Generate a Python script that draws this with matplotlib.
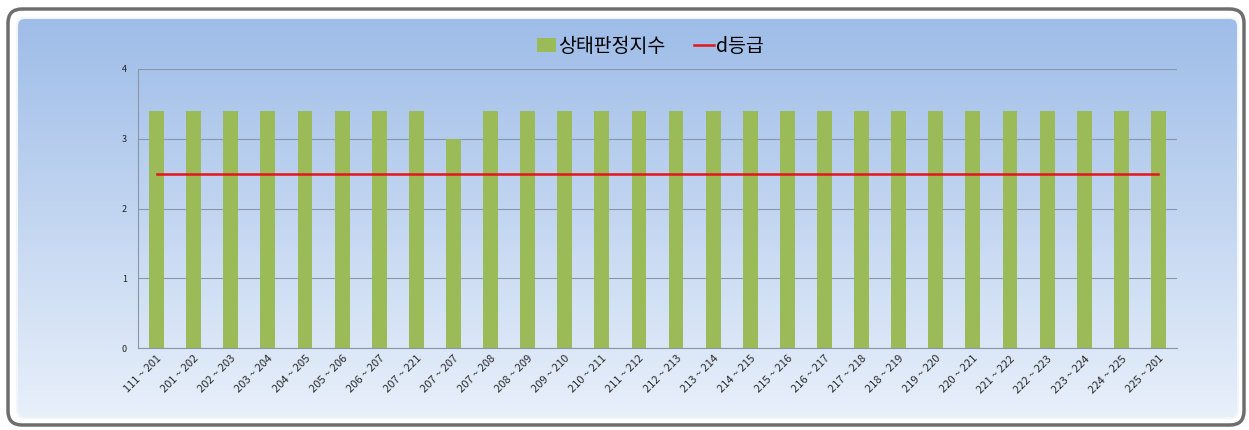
import numpy as np
import matplotlib
matplotlib.use("Agg")
import matplotlib.pyplot as plt
from matplotlib.patches import FancyBboxPatch, Patch
from matplotlib.lines import Line2D

plt.rcParams['font.family'] = ['Noto Sans CJK KR', 'DejaVu Sans']

# data
sections = ["111 ~ 201", "201 ~ 202", "202 ~ 203", "203 ~ 204", "204 ~ 205",
            "205 ~ 206", "206 ~ 207", "207 ~ 221", "207 ~ 207", "207 ~ 208",
            "208 ~ 209", "209 ~ 210", "210 ~ 211", "211 ~ 212", "212 ~ 213",
            "213 ~ 214", "214 ~ 215", "215 ~ 216", "216 ~ 217", "217 ~ 218",
            "218 ~ 219", "219 ~ 220", "220 ~ 221", "221 ~ 222", "222 ~ 223",
            "223 ~ 224", "224 ~ 225", "225 ~ 201"]
index_vals = [3.4, 3.4, 3.4, 3.4, 3.4, 3.4, 3.4, 3.4, 3.0, 3.4,
              3.4, 3.4, 3.4, 3.4, 3.4, 3.4, 3.4, 3.4, 3.4, 3.4,
              3.4, 3.4, 3.4, 3.4, 3.4, 3.4, 3.4, 3.4]
grade_d = [2.5] * len(sections)

W, H = 1249, 430
fig = plt.figure(figsize=(W / 100, H / 100), dpi=100)
fig.patch.set_facecolor("white")

# background gradient panel
bg = fig.add_axes([0, 0, 1, 1], zorder=-10)
bg.set_xlim(0, W); bg.set_ylim(H, 0); bg.axis("off")
grad = np.linspace(0, 1, 256).reshape(-1, 1)
top = np.array([0.62, 0.74, 0.91]); bot = np.array([0.91, 0.94, 0.98])
img = top + (bot - top) * grad[..., None]
im = bg.imshow(img, extent=[17, 1238, 418, 18], aspect="auto", zorder=1)
clip = FancyBboxPatch((17, 18), 1221, 400, boxstyle="round,pad=0,rounding_size=8",
                      transform=bg.transData, facecolor="none", edgecolor="none")
bg.add_patch(clip)
im.set_clip_path(clip)
bg.add_patch(FancyBboxPatch((17, 18), 1221, 400, boxstyle="round,pad=0,rounding_size=8",
                            facecolor="none", edgecolor="#f2f5fa", lw=1.5, zorder=2))
bg.add_patch(FancyBboxPatch((8, 9), 1236, 416, boxstyle="round,pad=0,rounding_size=14",
                            facecolor="none", edgecolor="#6e6e6e", lw=2.5, zorder=3))

# main chart
ax = fig.add_axes([138 / W, 1 - 348 / H, (1177 - 138) / W, (348 - 69) / H])
ax.patch.set_alpha(0)
x = np.arange(len(sections))
ax.bar(x, index_vals, width=0.4, color="#9bbb59", zorder=2)
ax.plot(x, grade_d, color="#e3161c", lw=1.8, zorder=3)
ax.set_xlim(-0.5, len(sections) - 0.5)
ax.set_ylim(0, 4)
ax.set_yticks([0, 1, 2, 3, 4])
ax.yaxis.grid(True, color="#8a96a8", lw=0.8, zorder=0)
ax.tick_params(axis="y", length=0, labelsize=6.5, pad=8, colors="#222222")
ax.tick_params(axis="x", length=0, labelsize=8, pad=4, colors="#2a2a2a")
ax.set_xticks(x)
ax.set_xticklabels(sections, rotation=45, ha="right", rotation_mode="anchor")
for s in ["top", "right"]:
    ax.spines[s].set_visible(False)
ax.spines["left"].set_color("#8a96a8")
ax.spines["bottom"].set_color("#8a96a8")

handles = [Patch(facecolor="#9bbb59", edgecolor="none"),
           Line2D([0], [0], color="#e3161c", lw=1.8)]
fig.legend(handles, ["상태판정지수", "d등급"], loc="center", bbox_to_anchor=(650 / W, 1 - 46 / H),
           ncol=2, frameon=False, fontsize=14, handlelength=1.0, handletextpad=0.1,
           columnspacing=1.5)

fig.savefig("out.png", dpi=100)
